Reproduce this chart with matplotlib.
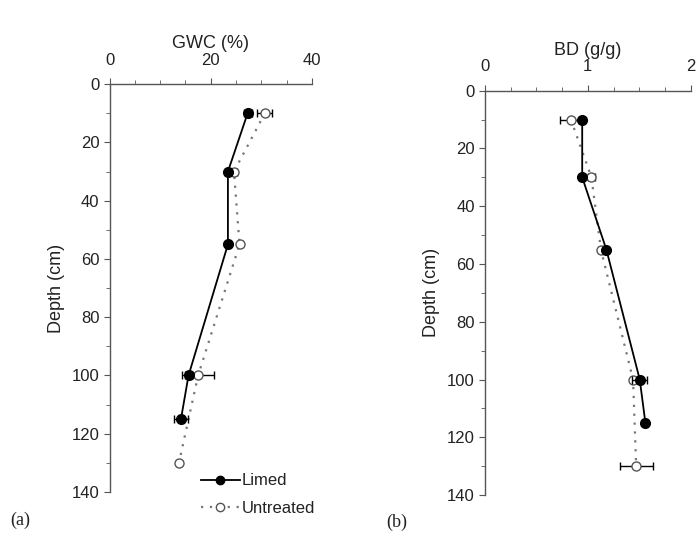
import matplotlib
matplotlib.use("Agg")
import matplotlib.pyplot as plt
from matplotlib.ticker import MultipleLocator
from matplotlib.lines import Line2D

plt.rcParams['font.family'] = ['Liberation Sans', 'DejaVu Sans']

# Panel (a) GWC
gwc_limed_depth = [10, 30, 55, 100, 115]
gwc_limed = [27.3, 23.4, 23.4, 15.6, 14.1]
gwc_limed_err = [0.8, 0.6, 0.4, 0.6, 1.3]
gwc_untr_depth = [10, 30, 55, 100, 130]
gwc_untr = [30.7, 24.6, 25.7, 17.5, 13.7]
gwc_untr_err = [1.5, 0.5, 0.4, 3.2, 0.3]

# Panel (b) BD
bd_limed_depth = [10, 30, 55, 100, 115]
bd_limed = [0.945, 0.945, 1.18, 1.505, 1.56]
bd_limed_err = [0.03, 0.02, 0.02, 0.075, 0.02]
bd_untr_depth = [10, 30, 55, 100, 130]
bd_untr = [0.835, 1.035, 1.127, 1.44, 1.47]
bd_untr_err = [0.11, 0.03, 0.02, 0.02, 0.16]

fig = plt.figure(figsize=(6.99, 5.33), dpi=100)
axA = fig.add_axes([0.157, 0.077, 0.289, 0.765])
axB = fig.add_axes([0.694, 0.071, 0.294, 0.759])

spine_col = '#555555'
txt_col = '#222222'

def style(ax, xmax, xmajor, xminor, xlabel):
    ax.set_xlim(0, xmax)
    ax.set_ylim(140, 0)
    ax.xaxis.tick_top()
    ax.xaxis.set_label_position('top')
    ax.xaxis.set_major_locator(MultipleLocator(xmajor))
    ax.xaxis.set_minor_locator(MultipleLocator(xminor))
    ax.yaxis.set_major_locator(MultipleLocator(20))
    ax.yaxis.set_minor_locator(MultipleLocator(10))
    for s in ['right', 'bottom']:
        ax.spines[s].set_visible(False)
    for s in ['left', 'top']:
        ax.spines[s].set_color(spine_col)
        ax.spines[s].set_linewidth(1.0)
    ax.tick_params(which='both', direction='out', color=spine_col, labelsize=12,
                   labelcolor=txt_col)
    ax.tick_params(which='major', length=4)
    ax.tick_params(which='minor', length=3)
    ax.tick_params(axis='x', which='both', pad=8)
    ax.set_xlabel(xlabel, fontsize=13, labelpad=3, color=txt_col)
    ax.set_ylabel('Depth (cm)', fontsize=13, labelpad=5, color=txt_col)
    ax.patch.set_visible(False)

style(axA, 40, 20, 5, 'GWC (%)')
style(axB, 2, 1, 0.25, 'BD (g/g)')

def draw(ax, ld, lv, le, ud, uv, ue):
    ax.errorbar(uv, ud, xerr=ue, color='#777777', ls=(0, (1, 3)), lw=1.6,
                marker='o', ms=6.5, mfc='white', mec='#555555', mew=1.0,
                ecolor='black', elinewidth=1.0, capsize=3, zorder=2)
    ax.errorbar(lv, ld, xerr=le, color='black', ls='-', lw=1.3,
                marker='o', ms=7, mfc='black', mec='black',
                ecolor='black', elinewidth=1.0, capsize=3, zorder=3)

draw(axA, gwc_limed_depth, gwc_limed, gwc_limed_err, gwc_untr_depth, gwc_untr, gwc_untr_err)
draw(axB, bd_limed_depth, bd_limed, bd_limed_err, bd_untr_depth, bd_untr, bd_untr_err)

h_limed = Line2D([], [], color='black', ls='-', lw=1.3, marker='o', ms=6,
                 mfc='black', mec='black')
h_untr = Line2D([], [], color='#777777', ls=(0, (1, 3)), lw=1.6, marker='o', ms=6,
                mfc='white', mec='#555555')
axA.legend([h_limed, h_untr], ['Limed', 'Untreated'], loc='lower left',
           bbox_to_anchor=(0.42, -0.075), frameon=False, fontsize=12,
           handlelength=2.3, handletextpad=0.1, borderaxespad=0, labelspacing=0.75,
           labelcolor=txt_col)

fig.text(0.014, 0.015, '(a)', family='Liberation Serif', fontsize=13, color=txt_col)
fig.text(0.553, 0.012, '(b)', family='Liberation Serif', fontsize=13, color=txt_col)

fig.savefig('out.png', dpi=100)
